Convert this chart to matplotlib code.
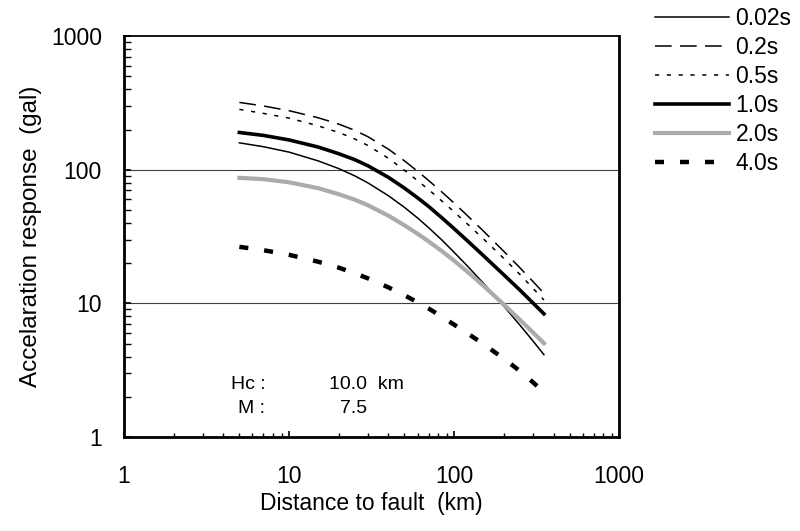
# Acceleration response vs distance to fault, log-log, one curve per period
import matplotlib
matplotlib.use('Agg')
import matplotlib.pyplot as plt
from matplotlib.ticker import LogLocator, NullFormatter, FixedLocator, FixedFormatter

plt.rcParams['font.family'] = ['Liberation Sans', 'DejaVu Sans']
plt.rcParams['lines.scale_dashes'] = False

# distance to fault (km)
dist = [5, 7, 10, 15, 20, 25, 30, 40, 50, 60, 70, 85, 100, 120, 150, 200, 250, 300, 350]

# acceleration response (gal) per period
acc_002 = [159, 148.7, 135.5, 116.5, 102, 90.0, 79.8, 63.9, 52.3, 43.6, 36.9, 29.5,
           24.1, 19.1, 14.2, 9.52, 6.89, 5.24, 4.13]
acc_02 = [319, 300, 276.6, 245, 219.6, 197.3, 176.8, 142.5, 116.6, 97.5, 83.2, 67.5,
          56.3, 45.5, 34.9, 24.5, 18.5, 14.6, 11.9]
acc_05 = [283, 264, 243.4, 213.2, 190, 170.1, 152.0, 121.8, 99.1, 82.9, 71.1, 57.8,
          48.4, 39.4, 30.5, 21.7, 16.5, 13.0, 10.6]
acc_10 = [190, 180.7, 167.1, 147.9, 131.8, 119, 107.2, 87.7, 72.9, 61.7, 53.2, 43.3,
          36.2, 29.5, 22.85, 16.35, 12.6, 10.08, 8.35]
acc_20 = [87, 85, 80.5, 72.8, 65.6, 59.7, 54.3, 45.3, 38.4, 33.2, 29.1, 24.4,
          20.85, 17.3, 13.6, 9.81, 7.55, 6.07, 5.03]
acc_40 = [26.5, 25.0, 23.1, 20.5, 18.5, 16.8, 15.4, 13.17, 11.5, 10.2, 9.16, 7.9,
          6.93, 5.99, 4.97, 3.86, 3.12, 2.57, 2.17]

labels = ['0.02s', '0.2s', '0.5s', '1.0s', '2.0s', '4.0s']
ticks = [1, 10, 100, 1000]
tick_text = ['1', '10', '100', '1000']

fig = plt.figure(figsize=(8, 5.31), dpi=100)
ax = fig.add_axes([0.155, 0.177, 0.619, 0.755])

ax.plot(dist, acc_002, color='black', lw=1.1, label=labels[0])
ax.plot(dist, acc_02, color='black', lw=1.1, dashes=(12, 6), label=labels[1])
ax.plot(dist, acc_05, color='black', lw=1.1, dashes=(3, 5.5), label=labels[2])
ax.plot(dist, acc_10, color='black', lw=2.6, label=labels[3])
ax.plot(dist, acc_20, color='#ababab', lw=3.0, label=labels[4])
ax.plot(dist, acc_40, color='black', lw=3.2, dashes=(6.5, 11.5),
        dash_capstyle='butt', label=labels[5])

ax.set_xscale('log')
ax.set_yscale('log')
ax.set_xlim(1, 1000)
ax.set_ylim(1, 1000)

# horizontal grid lines only at 10 and 100
for yv in [10, 100]:
    ax.axhline(yv, color='#404040', lw=0.8, zorder=0)

ax.xaxis.set_major_locator(FixedLocator(ticks))
ax.xaxis.set_major_formatter(FixedFormatter(tick_text))
ax.yaxis.set_major_locator(FixedLocator(ticks))
ax.yaxis.set_major_formatter(FixedFormatter(tick_text))
ax.xaxis.set_minor_locator(LogLocator(base=10, subs=range(2, 10)))
ax.yaxis.set_minor_locator(LogLocator(base=10, subs=range(2, 10)))
ax.xaxis.set_minor_formatter(NullFormatter())
ax.yaxis.set_minor_formatter(NullFormatter())

ax.tick_params(axis='x', which='major', direction='in', length=4.5, width=1.2,
               pad=20, labelsize=16.5, top=False)
ax.tick_params(axis='x', which='minor', direction='in', length=3, width=1.0, top=False)
ax.tick_params(axis='y', which='major', direction='in', length=5, width=1.2,
               pad=16, labelsize=16.5, right=False)
ax.tick_params(axis='y', which='minor', direction='in', length=5, width=1.0, right=False)

ax.spines['left'].set_linewidth(2)
ax.spines['bottom'].set_linewidth(2)
ax.spines['right'].set_linewidth(2)
ax.spines['top'].set_linewidth(1.3)

ax.set_xlabel('Distance to fault  (km)', fontsize=16.5, labelpad=3)
ax.set_ylabel('Accelaration response  (gal)', fontsize=17.5, labelpad=6)

# earthquake parameters
ax.text(0.285, 0.132, 'Hc :', transform=ax.transAxes, ha='right', va='center', fontsize=14)
ax.text(0.414, 0.132, '10.0  km', transform=ax.transAxes, ha='left', va='center', fontsize=14)
ax.text(0.285, 0.07, 'M :', transform=ax.transAxes, ha='right', va='center', fontsize=14)
ax.text(0.436, 0.07, '7.5', transform=ax.transAxes, ha='left', va='center', fontsize=14)

fig.legend(loc='upper left', bbox_to_anchor=(0.819, 0.987), frameon=False,
           fontsize=16.5, handlelength=3.2, handletextpad=0.3,
           labelspacing=0.26, borderpad=0.0, borderaxespad=0.0)

plt.savefig('out.png', dpi=100)
plt.close()
